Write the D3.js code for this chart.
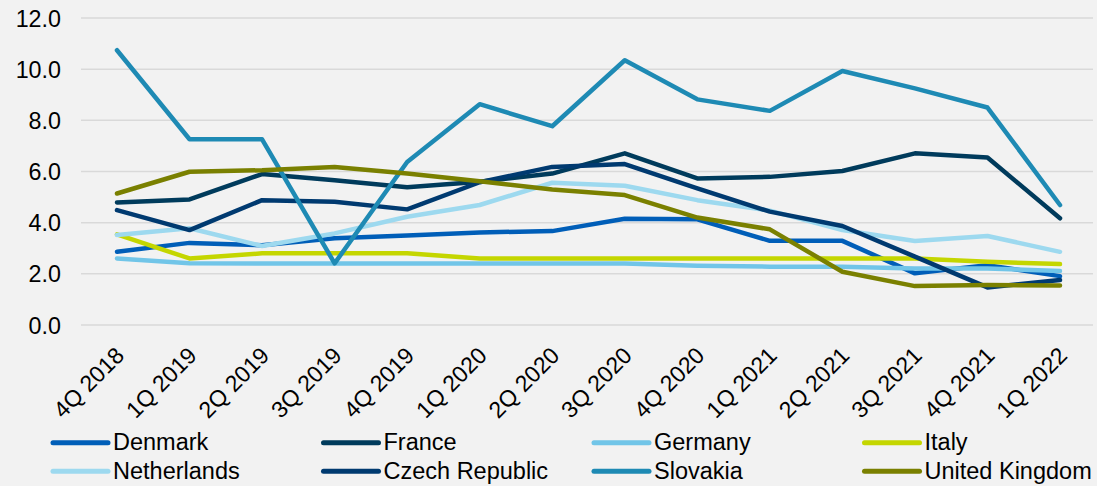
<!DOCTYPE html>
<html><head><meta charset="utf-8">
<script src="https://cdn.jsdelivr.net/npm/d3@7"></script>
<style>
html,body{margin:0;padding:0;background:#f2f2f2;}
svg{display:block;font-family:"Liberation Sans",Arial,sans-serif;}
</style></head>
<body>
<svg id="chart" width="1097" height="486"></svg>
<script>
const categories = ["4Q 2018","1Q 2019","2Q 2019","3Q 2019","4Q 2019","1Q 2020","2Q 2020","3Q 2020","4Q 2020","1Q 2021","2Q 2021","3Q 2021","4Q 2021","1Q 2022"];
const yTicks = [0,2,4,6,8,10,12];
const seriesNames = ["Denmark","France","Germany","Italy","Netherlands","Czech Republic","Slovakia","United Kingdom"];
const denmark     = [2.86,3.21,3.12,3.39,3.50,3.62,3.67,4.15,4.13,3.29,3.29,2.02,2.34,1.91];
const france      = [4.79,4.91,5.90,5.66,5.38,5.60,5.92,6.71,5.73,5.79,6.02,6.71,6.55,4.17];
const germany     = [2.60,2.41,2.40,2.40,2.40,2.40,2.40,2.40,2.32,2.28,2.28,2.21,2.21,2.11];
const italy       = [3.54,2.60,2.80,2.80,2.80,2.60,2.60,2.60,2.60,2.60,2.60,2.60,2.47,2.38];
const netherlands = [3.52,3.78,3.09,3.58,4.23,4.69,5.56,5.44,4.88,4.47,3.71,3.28,3.48,2.86];
const czech       = [4.49,3.71,4.88,4.82,4.52,5.58,6.18,6.29,5.34,4.43,3.87,2.67,1.47,1.76];
const slovakia    = [10.74,7.26,7.26,2.41,6.37,8.63,7.77,10.35,8.82,8.37,9.93,9.25,8.50,4.69];
const uk          = [5.14,5.99,6.05,6.18,5.92,5.62,5.30,5.08,4.20,3.74,2.08,1.52,1.56,1.54];
const seriesValues = [denmark,france,germany,italy,netherlands,czech,slovakia,uk];
const colors = ["#005eb8","#003b5c","#71c5e8","#c4d600","#9dd9ef","#003a70","#1e8ab4","#7a8000"];

const svg = d3.select("#chart");
const FS = 23.3;
const gLeft = 81, gRight = 1093, pTop = 18, pBottom = 325;
const x = d3.scalePoint().domain(categories).range([117, 1060]).padding(0);
const y = d3.scaleLinear().domain([0,12]).range([pBottom, pTop]);

// gridlines
svg.append("g").selectAll("line").data(yTicks).join("line")
  .attr("x1", gLeft).attr("x2", gRight)
  .attr("y1", d=>y(d)).attr("y2", d=>y(d))
  .attr("stroke", "#d9d9d9").attr("stroke-width", 1.5);

// y axis labels
const yAxis = d3.axisLeft(y).tickValues(yTicks).tickFormat(d3.format(".1f")).tickSize(0).tickPadding(0);
const gy = svg.append("g").attr("transform", "translate(61,0)").call(yAxis);
gy.select(".domain").remove();
gy.selectAll("text").attr("font-size", FS).attr("fill", "#000").attr("font-family", "Liberation Sans, Arial, sans-serif").attr("dy", "0.35em");

// x axis labels
const xAxis = d3.axisBottom(x).tickSize(0).tickPadding(0);
const gx = svg.append("g").attr("transform", `translate(0,${pBottom})`).call(xAxis);
gx.select(".domain").remove();
gx.selectAll("text")
  .attr("font-size", 23).attr("fill", "#000").attr("font-family", "Liberation Sans, Arial, sans-serif")
  .attr("text-anchor", "end").attr("dy", null).attr("y", 0)
  .attr("transform", "translate(8,32) rotate(-45)");

// lines
const line = d3.line().x((d,i)=>x(categories[i])).y(d=>y(d));
svg.append("g").selectAll("path").data(seriesValues).join("path")
  .attr("d", d=>line(d)).attr("fill","none")
  .attr("stroke", (d,i)=>colors[i]).attr("stroke-width", 4.5)
  .attr("stroke-linejoin","round").attr("stroke-linecap","round");

// legend
const leg = svg.append("g");
seriesNames.forEach((name,i)=>{
  const col = i % 4, row = Math.floor(i/4);
  const lx = 53 + col*270.5, ly = 442 + row*28.5;
  leg.append("line").attr("x1", lx).attr("x2", lx+55).attr("y1", ly+0.8).attr("y2", ly+0.8)
    .attr("stroke", colors[i]).attr("stroke-width", 5).attr("stroke-linecap","round");
  leg.append("text").attr("x", lx+60).attr("y", ly).attr("dy","0.35em")
    .attr("font-size", 23.5).attr("fill","#000").text(name);
});
</script>
</body></html>
